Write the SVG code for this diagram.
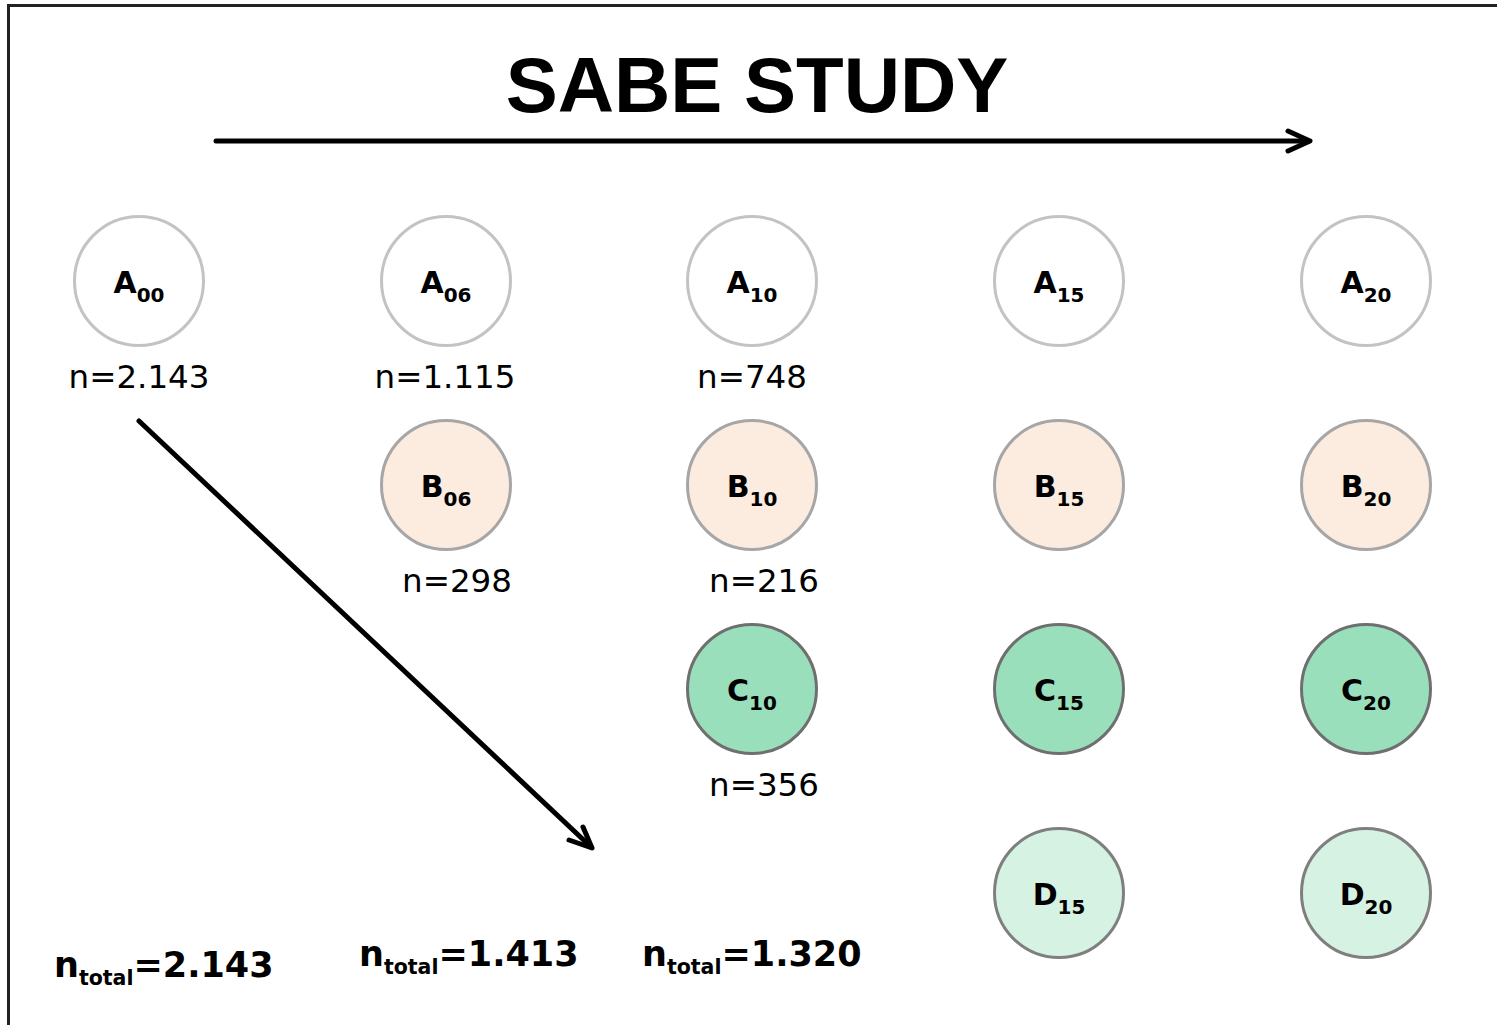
<svg xmlns="http://www.w3.org/2000/svg" width="1497" height="1025" viewBox="0 0 1497 1025">
  <style>
    .frame { fill: none; stroke: #222222; stroke-width: 3; }
    .wave circle { stroke-width: 3; }
    .a circle { fill: #ffffff; stroke: #c3c3c3; }
    .b circle { fill: #fcebdf; stroke: #a6a6a6; }
    .c circle { fill: #9adfbc; stroke: #6f6f6f; }
    .d circle { fill: #d6f2e3; stroke: #7f7f7f; }
    .lbl { font-family: "DejaVu Sans", Verdana, sans-serif; font-weight: bold; font-size: 30px; fill: #000; text-anchor: middle; }
    .sub { font-size: 20px; }
    .count { font-family: "DejaVu Sans", Verdana, sans-serif; font-size: 32.5px; fill: #000; text-anchor: middle; }
    .total { font-family: "DejaVu Sans", Verdana, sans-serif; font-weight: bold; font-size: 35px; fill: #000; }
    .tsub { font-size: 20.5px; }
    .title { font-family: "Liberation Sans", Arial, sans-serif; font-weight: bold; font-size: 78px; fill: #000; text-anchor: middle; }
    .arrow { fill: none; stroke: #000; stroke-width: 5; stroke-linecap: round; stroke-linejoin: round; }
  </style>

  <rect width="1497" height="1025" fill="#ffffff"/>
  <!-- page frame: top and left edges only -->
  <path class="frame" d="M8.5,1025 V5.5 H1497"/>

  <text class="title" x="757" y="112">SABE STUDY</text>

  <g id="connectors">
    <!-- timeline -->
    <path class="arrow" d="M216,141 H1308"/>
    <path class="arrow" d="M1288,131 L1310,141 L1288,151"/>
    <!-- diagonal cohort arrow -->
    <path class="arrow" d="M139,421 L590,846"/>
    <path class="arrow" d="M583,827 L592,848 L569,840"/>
  </g>

  <!-- wave A -->
  <g id="A00" class="wave a"><circle cx="139" cy="281" r="64.5"/><text class="lbl" x="139" y="293">A<tspan class="sub" dy="9">00</tspan></text></g>
  <g id="A06" class="wave a"><circle cx="446" cy="281" r="64.5"/><text class="lbl" x="446" y="293">A<tspan class="sub" dy="9">06</tspan></text></g>
  <g id="A10" class="wave a"><circle cx="752" cy="281" r="64.5"/><text class="lbl" x="752" y="293">A<tspan class="sub" dy="9">10</tspan></text></g>
  <g id="A15" class="wave a"><circle cx="1059" cy="281" r="64.5"/><text class="lbl" x="1059" y="293">A<tspan class="sub" dy="9">15</tspan></text></g>
  <g id="A20" class="wave a"><circle cx="1366" cy="281" r="64.5"/><text class="lbl" x="1366" y="293">A<tspan class="sub" dy="9">20</tspan></text></g>

  <!-- wave B -->
  <g id="B06" class="wave b"><circle cx="446" cy="485" r="64.5"/><text class="lbl" x="446" y="497">B<tspan class="sub" dy="9">06</tspan></text></g>
  <g id="B10" class="wave b"><circle cx="752" cy="485" r="64.5"/><text class="lbl" x="752" y="497">B<tspan class="sub" dy="9">10</tspan></text></g>
  <g id="B15" class="wave b"><circle cx="1059" cy="485" r="64.5"/><text class="lbl" x="1059" y="497">B<tspan class="sub" dy="9">15</tspan></text></g>
  <g id="B20" class="wave b"><circle cx="1366" cy="485" r="64.5"/><text class="lbl" x="1366" y="497">B<tspan class="sub" dy="9">20</tspan></text></g>

  <!-- wave C -->
  <g id="C10" class="wave c"><circle cx="752" cy="689" r="64.5"/><text class="lbl" x="752" y="701">C<tspan class="sub" dy="9">10</tspan></text></g>
  <g id="C15" class="wave c"><circle cx="1059" cy="689" r="64.5"/><text class="lbl" x="1059" y="701">C<tspan class="sub" dy="9">15</tspan></text></g>
  <g id="C20" class="wave c"><circle cx="1366" cy="689" r="64.5"/><text class="lbl" x="1366" y="701">C<tspan class="sub" dy="9">20</tspan></text></g>

  <!-- wave D -->
  <g id="D15" class="wave d"><circle cx="1059" cy="893" r="64.5"/><text class="lbl" x="1059" y="905">D<tspan class="sub" dy="9">15</tspan></text></g>
  <g id="D20" class="wave d"><circle cx="1366" cy="893" r="64.5"/><text class="lbl" x="1366" y="905">D<tspan class="sub" dy="9">20</tspan></text></g>

  <!-- sample sizes -->
  <g id="counts">
    <text class="count" x="139" y="388">n=2.143</text>
    <text class="count" x="445" y="388">n=1.115</text>
    <text class="count" x="752" y="388">n=748</text>
    <text class="count" x="457" y="592">n=298</text>
    <text class="count" x="764" y="592">n=216</text>
    <text class="count" x="764" y="796">n=356</text>
  </g>

  <!-- cumulative totals -->
  <g id="totals">
    <text class="total" x="54" y="977">n<tspan class="tsub" dy="8">total</tspan><tspan dy="-8">=2.143</tspan></text>
    <text class="total" x="359" y="966">n<tspan class="tsub" dy="8">total</tspan><tspan dy="-8">=1.413</tspan></text>
    <text class="total" x="642" y="966">n<tspan class="tsub" dy="8">total</tspan><tspan dy="-8">=1.320</tspan></text>
  </g>
</svg>
